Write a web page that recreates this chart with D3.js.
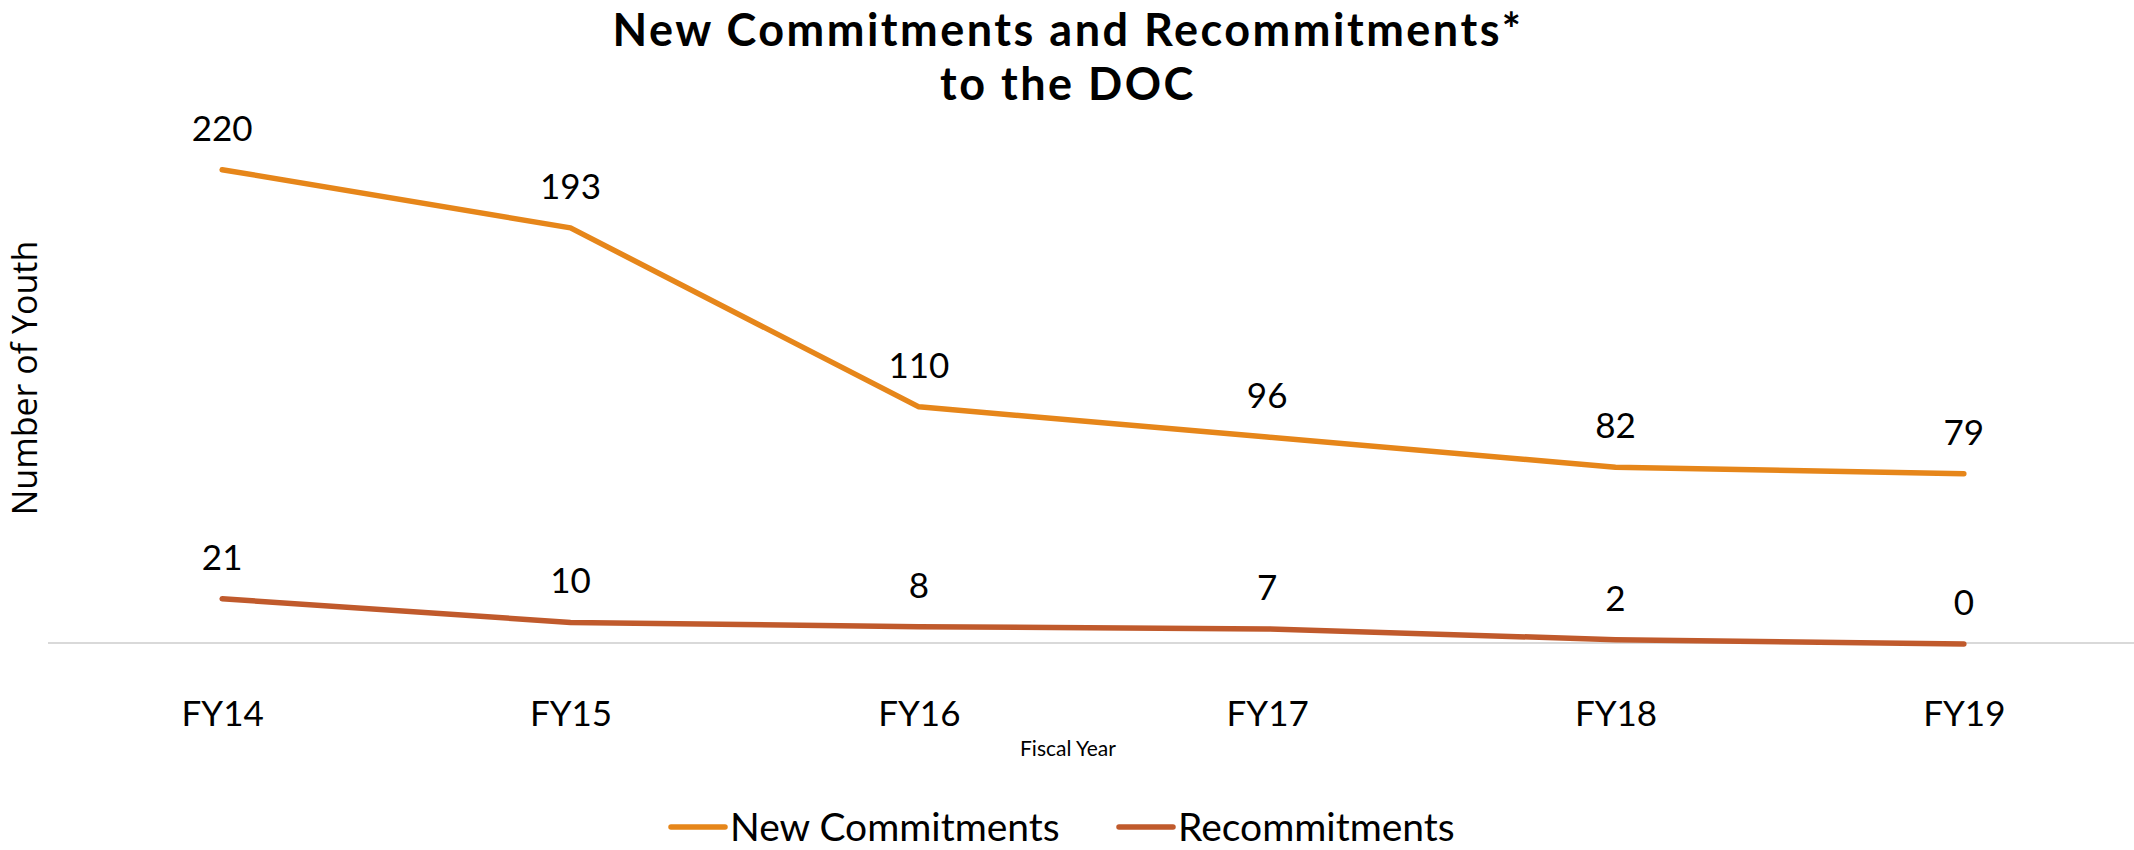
<!DOCTYPE html>
<html>
<head>
<meta charset="utf-8">
<script src="https://cdn.jsdelivr.net/npm/d3@7"></script>
<style>
  body { margin: 0; background: #fff; }
  svg { display: block; font-family: Lato, "Liberation Sans Narrow", sans-serif; }
</style>
</head>
<body>
<div id="chart"></div>
<script>
// chart data
const years = ["FY14", "FY15", "FY16", "FY17", "FY18", "FY19"];
const newCommitments = [220, 193, 110, 96, 82, 79];
const recommitments = [21, 10, 8, 7, 2, 0];
const seriesNames = ["New Commitments", "Recommitments"];
const seriesColors = ["#E6861A", "#C05A2C"];
const titleLines = ["New Commitments and Recommitments*", "to the DOC"];

const width = 2134, height = 850;
const margin = { left: 48, right: -4, top: 105, bottom: 206 };

const svg = d3.select("#chart").append("svg")
    .attr("width", width)
    .attr("height", height);

const x = d3.scalePoint()
    .domain(years)
    .range([margin.left, width - margin.right])
    .padding(0.5);

const y = d3.scaleLinear()
    .domain([0, 250])
    .range([height - margin.bottom, margin.top]);

// title
titleLines.forEach((t, i) => {
    svg.append("text")
        .attr("x", 1068)
        .attr("y", 46 + i * 54)
        .attr("text-anchor", "middle")
        .attr("font-weight", "bold")
        .attr("font-size", 45)
        .attr("letter-spacing", 2.5)
        .text(t);
});

// baseline axis
const xAxis = svg.append("g")
    .attr("transform", `translate(0,${y(0) - 1})`)
    .call(d3.axisBottom(x).tickSize(0).tickPadding(58));
xAxis.select(".domain").attr("stroke", "#d9d9d9").attr("stroke-width", 2)
    .attr("d", `M${margin.left},0H${width}`);
xAxis.selectAll("text")
    .attr("font-family", "Lato, sans-serif")
    .attr("font-size", 35)
    .attr("fill", "#000");

// axis titles
svg.append("text")
    .attr("transform", `translate(37,378) rotate(-90)`)
    .attr("text-anchor", "middle")
    .attr("font-family", "'Open Sans', sans-serif")
    .attr("font-size", 34)
    .text("Number of Youth");

svg.append("text")
    .attr("x", 1068).attr("y", 756)
    .attr("text-anchor", "middle")
    .attr("font-size", 21)
    .text("Fiscal Year");

// lines
const line = d3.line()
    .x((d, i) => x(years[i]))
    .y(d => y(d));

const series = [newCommitments, recommitments];

series.forEach((vals, s) => {
    svg.append("path")
        .datum(vals)
        .attr("fill", "none")
        .attr("stroke", seriesColors[s])
        .attr("stroke-width", 5.5)
        .attr("stroke-linecap", "round")
        .attr("stroke-linejoin", "round")
        .attr("d", line);

    svg.selectAll(null)
        .data(vals)
        .join("text")
        .attr("x", (d, i) => x(years[i]))
        .attr("y", d => y(d) - 29)
        .attr("text-anchor", "middle")
        .attr("font-size", 35)
        .text(d => d);
});

// legend
const legendItems = [
    { name: seriesNames[0], color: seriesColors[0], x: 671 },
    { name: seriesNames[1], color: seriesColors[1], x: 1119 }
];
const legend = svg.append("g");
legendItems.forEach(it => {
    legend.append("line")
        .attr("x1", it.x).attr("x2", it.x + 54)
        .attr("y1", 827).attr("y2", 827)
        .attr("stroke", it.color)
        .attr("stroke-width", 5.5)
        .attr("stroke-linecap", "round");
    legend.append("text")
        .attr("x", it.x + 59).attr("y", 841)
        .attr("font-size", 39)
        .text(it.name);
});
</script>
</body>
</html>
